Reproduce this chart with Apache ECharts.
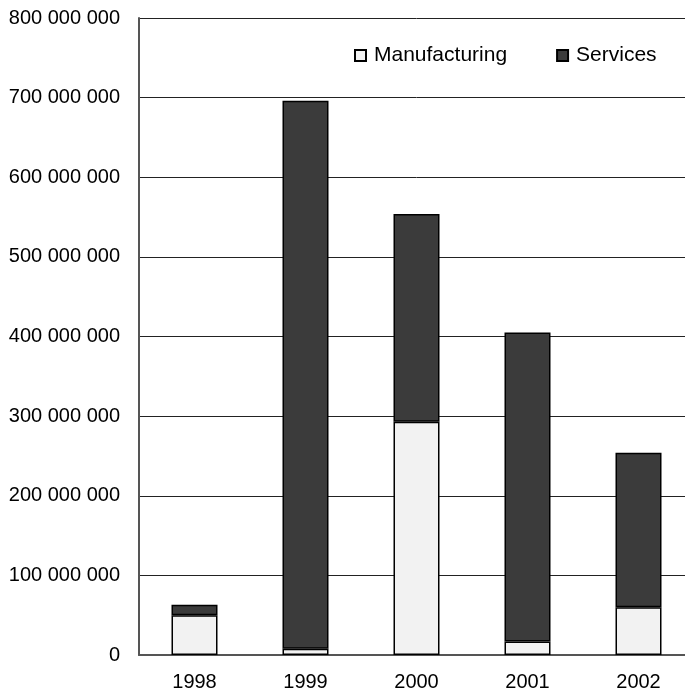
<!DOCTYPE html>
<html>
<head>
<meta charset="utf-8">
<script src="https://cdn.jsdelivr.net/npm/echarts@6/dist/echarts.min.js"></script>
<style>
  html, body { margin: 0; padding: 0; background: #fff; overflow: hidden; }
  /* the plot runs slightly past the right edge of the window */
  #chart { width: 694px; height: 693px; }
</style>
</head>
<body>
<div id="chart"></div>
<script>
// Years on the category axis
const years = ['1998', '1999', '2000', '2001', '2002'];
// Stacked values per year
const manufacturing = [50000000, 8000000, 293000000, 17000000, 60000000];
const services = [13000000, 688000000, 261000000, 388000000, 194000000];
// Value axis range and step
const yMin = 0;
const yMax = 800000000;
const yStep = 100000000;

const fontFamily = 'Liberation Sans, Arial, sans-serif';

// Thousands separated by spaces: 800 000 000
function spaced(v) {
  return String(v).replace(/\B(?=(\d{3})+(?!\d))/g, ' ');
}

const chart = echarts.init(document.getElementById('chart'), null, { renderer: 'canvas' });

chart.setOption({
  animation: false,
  backgroundColor: '#ffffff',
  textStyle: { fontFamily: fontFamily },
  grid: { left: 139, top: 18, right: 0, bottom: 38, containLabel: false },
  legend: {
    left: 349,
    top: 40,
    itemWidth: 11,
    itemHeight: 11,
    itemGap: 49,
    icon: 'rect',
    textStyle: { fontSize: 21, color: '#000', fontFamily: fontFamily, padding: [0, 0, 0, 3] },
    data: ['Manufacturing', 'Services']
  },
  xAxis: {
    type: 'category',
    data: years,
    axisLine: { show: true, lineStyle: { color: '#555', width: 2 } },
    axisTick: { show: false },
    axisLabel: { fontSize: 20, color: '#000', margin: 17, fontFamily: fontFamily },
    splitLine: { show: false }
  },
  yAxis: {
    type: 'value',
    min: yMin,
    max: yMax,
    interval: yStep,
    axisLine: { show: true, lineStyle: { color: '#555', width: 2 } },
    axisTick: { show: false },
    axisLabel: { fontSize: 20, color: '#000', margin: 19, fontFamily: fontFamily, formatter: spaced },
    splitLine: { show: true, lineStyle: { color: '#222', width: 1 } }
  },
  series: [
    {
      name: 'Manufacturing',
      type: 'bar',
      stack: 'total',
      barWidth: 46,
      data: manufacturing,
      itemStyle: { color: '#f2f2f2', borderColor: '#000', borderWidth: 1.5 }
    },
    {
      name: 'Services',
      type: 'bar',
      stack: 'total',
      barWidth: 46,
      data: services,
      itemStyle: { color: '#3b3b3b', borderColor: '#000', borderWidth: 1.5 }
    }
  ]
});
</script>
</body>
</html>
